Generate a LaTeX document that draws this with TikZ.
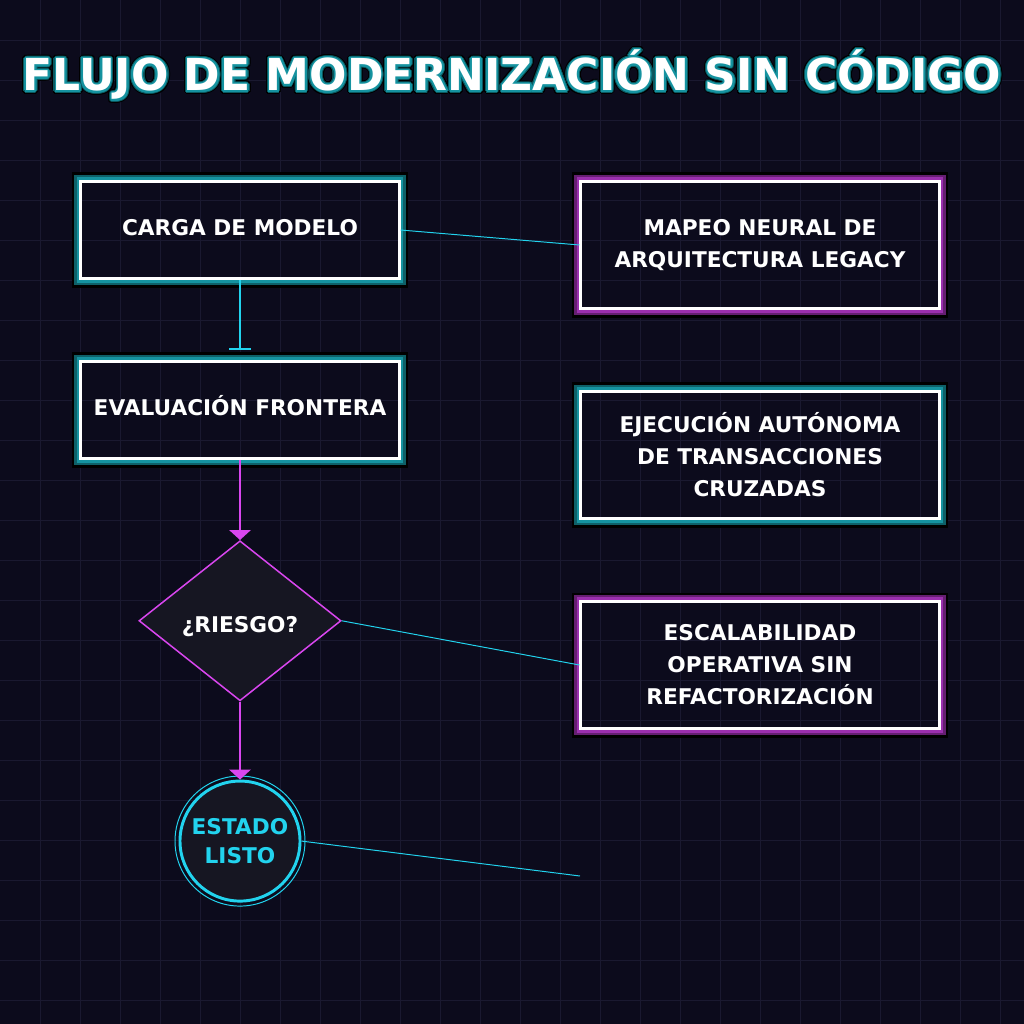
\documentclass[tikz,border=0pt]{standalone}
\usepackage{fontspec}
\setmainfont{DejaVu Sans}
\usetikzlibrary{arrows.meta,positioning,shapes.geometric,calc}

\definecolor{bg}{HTML}{0C0B1C}
\definecolor{gridc}{HTML}{1A1930}
\definecolor{neoncyan}{HTML}{22D3EE}
\definecolor{neonpink}{HTML}{D946EF}
\definecolor{glowt}{HTML}{1593A0}
\definecolor{glowp}{HTML}{9B2FAE}
\definecolor{panel}{HTML}{161622}

\tikzset{
  card/.style={draw=white,line width=2.1pt,inner sep=0pt,
    minimum width=7.95cm,minimum height=2.425cm,text=white,align=center,
    font=\fontsize{15.4}{22.8}\selectfont\bfseries},
  oneline/.style={text height=8.4pt,text depth=0pt},
  wide/.style={minimum width=8.95cm,minimum height=3.175cm},
}

\begin{document}
\begin{tikzpicture}[x=0.025cm,y=-0.025cm,node distance=2cm,
  ttl/.style={font=\fontsize{31.3}{36}\selectfont\bfseries,anchor=base,inner sep=0pt}]
  \useasboundingbox (0,0) rectangle (1024,1024);
  \fill[bg] (0,0) rectangle (1024,1024);
  \foreach \g in {40,80,...,1000} {
    \draw[gridc,line width=0.7pt] (\g,0) -- (\g,1024);
    \draw[gridc,line width=0.7pt] (0,\g) -- (1024,\g);
  }
  % title with outline
  \foreach \r/\c/\k in {3.8/black/ta,2.8/glowt!60!black/tb,1.6/glowt/tc}
    \foreach \a in {0,20,...,340}
      \node[ttl,text=\c] (\k\a) at ($(512,91)+(\a:\r)$) {FLUJO DE MODERNIZACIÓN SIN CÓDIGO};
  \node[ttl,text=white] (title) at (512,91) {FLUJO DE MODERNIZACIÓN SIN CÓDIGO};

  \node[card,oneline] (load) at (240,230) {CARGA DE MODELO};
  \node[card,oneline,below=of load] (eval) {EVALUACIÓN FRONTERA};
  \node[diamond,draw=neonpink,line width=1.07pt,fill=panel,minimum width=5.05cm,minimum height=4cm,
    inner sep=0pt,text=white,text height=16.8pt,text depth=0pt,
    font=\fontsize{15.4}{20}\selectfont\bfseries,below=of eval] (risk) {¿RIESGO?};
  \node[circle,draw=neoncyan,line width=2.1pt,fill=panel,minimum size=3cm,inner sep=0pt,text=neoncyan,
    align=center,font=\fontsize{15.4}{20.6}\selectfont\bfseries,below=1.95cm of risk] (done) {ESTADO\\LISTO};
  \draw[neoncyan,line width=0.7pt] (done.center) circle[radius=65];

  \node[card,wide] (map) at (760,245) {MAPEO NEURAL DE\\ARQUITECTURA LEGACY};
  \node[card,wide,below=of map] (exec) {EJECUCIÓN AUTÓNOMA\\DE TRANSACCIONES\\CRUZADAS};
  \node[card,wide,below=of exec] (scale) {ESCALABILIDAD\\OPERATIVA SIN\\REFACTORIZACIÓN};
  \coordinate (tail) at (580,876);

  % glow bands round the cards
  \foreach \n/\c in {load/glowt,eval/glowt,map/glowp,exec/glowt,scale/glowp}
    \foreach \o/\w/\t in {4.4/1.9/black,2.7/1.9/\c!65!black,1.0/2.0/\c}
      \draw[draw=\t,line width=\w pt] ([shift={(-\o pt,-\o pt)}]\n.south west) rectangle ([shift={(\o pt,\o pt)}]\n.north east);

  \draw[neoncyan,line width=1.4pt,-{Bar[width=15pt]},shorten >=7pt] (load) -- (eval);
  \foreach \a/\b in {eval/risk,risk/done} {\draw[neonpink,line width=1.4pt,-{Triangle[width=15pt,length=7pt]}] (\a) -- (\b);}
  \foreach \a/\b in {load.east/map.west,risk.east/scale.west,done.east/tail} {\draw[neoncyan,line width=0.7pt] (\a) -- (\b);}
\end{tikzpicture}
\end{document}
